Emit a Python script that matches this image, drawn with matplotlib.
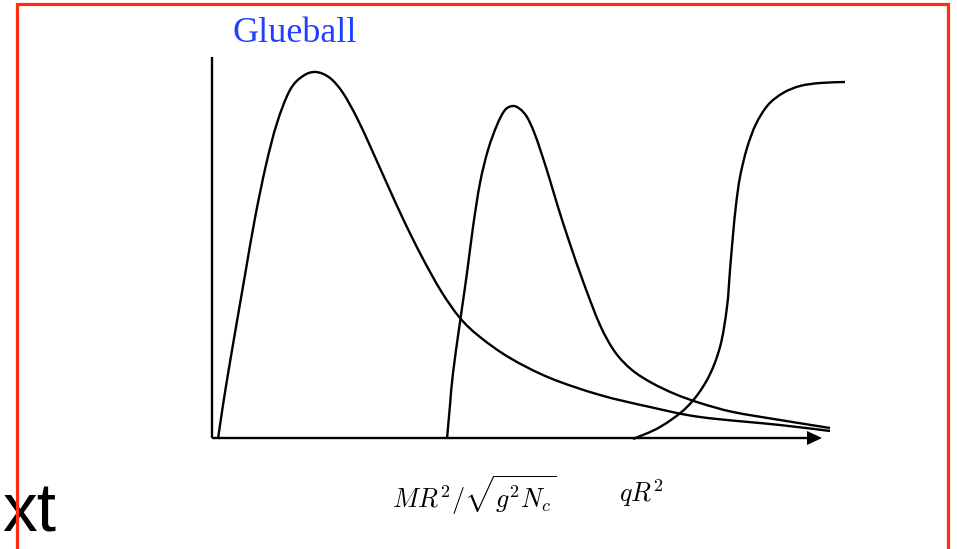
import numpy as np
import matplotlib.pyplot as plt
from matplotlib.patches import Polygon, Rectangle, PathPatch
from matplotlib.path import Path

plt.rcParams['mathtext.fontset'] = 'cm'

# Curves: x = distance along the axis, y = height above it
peak1_x = [6, 11, 17, 24, 33, 43, 54, 65, 78, 91, 104, 118, 131, 145, 159, 176, 193, 210,
           229, 248, 268, 298, 338, 388, 438, 488, 568, 618]
peak1_y = [-1, 33, 70, 111, 163, 220, 273, 315, 348, 362, 366, 360, 345, 320, 290, 252, 215, 181,
           147, 120, 101, 80, 60, 43, 31, 21, 13, 7]

peak2_x = [235, 238, 241, 248, 255, 261, 268, 276, 285, 293, 301, 308, 315, 322, 329, 337, 346,
           357, 372, 388, 403, 420, 440, 463, 488, 521, 568, 618]
peak2_y = [-1, 33, 65, 116, 165, 211, 255, 288, 313, 328, 332, 329, 321, 306, 286, 261, 231,
           197, 154, 113, 86, 68, 55, 44, 35, 26, 18, 10]

step_x = [421, 448, 475, 495, 508, 515, 518, 521, 524, 528, 535, 544, 556, 571, 588, 608, 633]
step_y = [-1, 11, 31, 58, 91, 131, 168, 203, 233, 261, 290, 314, 333, 345, 352, 355, 356]

axis_len = 596
axis_height = 381


def smooth_path(xs, ys):
    # Catmull-Rom through the read points, handed to matplotlib as cubic Bezier segments
    p = np.column_stack([xs, ys]).astype(float)
    pts = np.vstack([p[0], p, p[-1]])
    verts = [p[0]]
    codes = [Path.MOVETO]
    for i in range(1, len(pts) - 2):
        p0, p1, p2, p3 = pts[i - 1], pts[i], pts[i + 1], pts[i + 2]
        verts += [p1 + (p2 - p0) / 6, p2 - (p3 - p1) / 6, p2]
        codes += [Path.CURVE4] * 3
    return Path(verts, codes)


# figure covers the whole slide region, origin of the sketch at pixel (212, 438)
fig = plt.figure(figsize=(9.57, 5.49), dpi=100)
ax = fig.add_axes([0, 0, 1, 1])
ax.set_xlim(-212, 745)
ax.set_ylim(-111, 438)
ax.axis('off')

lw = 1.7
ax.plot([0, 0], [0, axis_height], color='black', lw=lw, solid_capstyle='butt')
ax.plot([0, axis_len], [0, 0], color='black', lw=lw, solid_capstyle='butt')
ax.add_patch(Polygon([[axis_len - 1, 7], [axis_len + 14, 0], [axis_len - 1, -7]],
                     closed=True, color='black', lw=0))

for xs, ys in [(peak1_x, peak1_y), (peak2_x, peak2_y), (step_x, step_y)]:
    ax.add_patch(PathPatch(smooth_path(xs, ys), facecolor='none', edgecolor='black',
                           lw=lw, capstyle='butt', joinstyle='round'))

ax.text(20, 396, 'Glueball', color='#2040ff', fontsize=26,
        family='Liberation Serif', ha='left', va='baseline')
ax.text(262, -57, r'$MR^2/\sqrt{g^2N_c}$', fontsize=18.8, ha='center', va='center')
ax.text(429, -55, r'$qR^2$', fontsize=18.8, ha='center', va='center')

ax.text(-156, -94, 'xt', fontsize=50, family='Liberation Sans',
        ha='right', va='baseline', color='black')

# red slide frame
ax.add_patch(Rectangle((-195, -140), 931, 574, fill=False,
                       edgecolor='#ff3010', lw=2.3, zorder=5, clip_on=False))

fig.savefig('out.png', dpi=100)
